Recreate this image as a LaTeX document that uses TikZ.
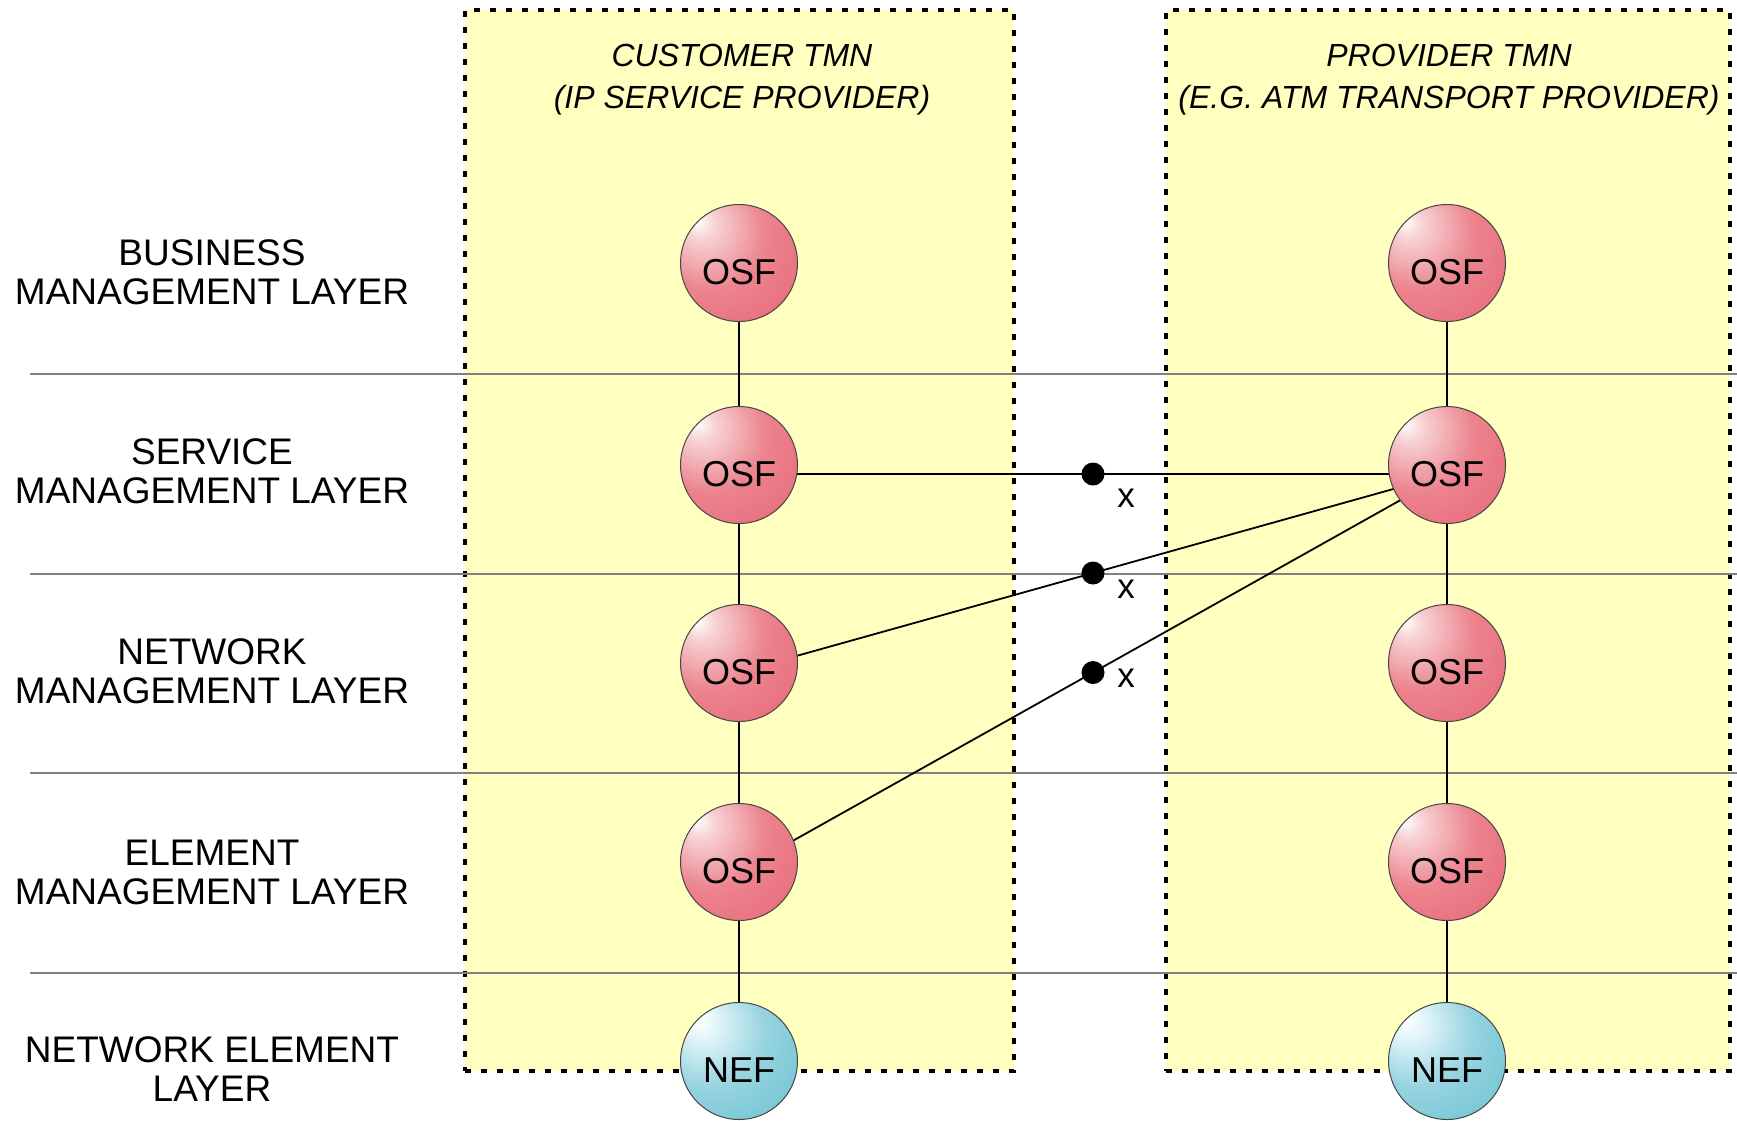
\documentclass[tikz,border=0pt]{standalone}
\usepackage{fontspec}
\setmainfont{Liberation Sans}

\definecolor{tmnfill}{RGB}{255,255,192}
\definecolor{layergray}{RGB}{128,128,128}
\definecolor{rimgray}{RGB}{70,70,70}
\definecolor{osfA}{RGB}{247,212,214}
\definecolor{osfB}{RGB}{236,132,142}
\definecolor{osfC}{RGB}{222,36,72}
\definecolor{nefA}{RGB}{230,247,250}
\definecolor{nefB}{RGB}{150,211,223}
\definecolor{nefC}{RGB}{36,166,186}

% off-centre radial shadings: light spot upper left, deep tone lower right
\pgfdeclareradialshading{osfshade}{\pgfpoint{-18bp}{18bp}}{%
  color(0bp)=(white); color(6bp)=(osfA); color(24bp)=(osfB);
  color(42bp)=(osfB!75!osfC); color(70bp)=(osfC); color(80bp)=(osfC)}
\pgfdeclareradialshading{nefshade}{\pgfpoint{-18bp}{18bp}}{%
  color(0bp)=(white); color(6bp)=(nefA); color(24bp)=(nefB);
  color(42bp)=(nefB!70!nefC); color(70bp)=(nefC); color(80bp)=(nefC)}

\begin{document}
\begin{tikzpicture}[x=1pt,y=-1pt,
  tmnbox/.style={draw=black, fill=tmnfill, line width=3.2pt,
    dash pattern=on 6pt off 10pt, inner sep=0pt},
  layerline/.style={draw=layergray, line width=2pt},
  conn/.style={draw=black, line width=1.8pt},
  fbase/.style={circle, minimum size=117pt, inner sep=0pt,
    draw=rimgray, line width=1pt, shade},
  osf/.style={fbase, shading=osfshade},
  nef/.style={fbase, shading=nefshade},
  ftext/.style={inner sep=0pt, font=\fontsize{36}{40}\selectfont},
  junction/.style={circle, fill=black, minimum size=23pt, inner sep=0pt},
  xmark/.style={font=\fontsize{35}{40}\selectfont, inner sep=0pt},
  layerlabel/.style={align=center, font=\fontsize{37}{39}\selectfont},
  header/.style={align=center, font=\itshape\fontsize{32}{42}\selectfont}
]
\clip (0,0) rectangle (1737,1120);
\fill[white] (0,0) rectangle (1737,1120);

% the two TMN domains
\node[tmnbox, minimum width=549pt, minimum height=1061pt] (custbox) at (739.5,540.5) {};
\node[tmnbox, minimum width=564pt, minimum height=1061pt] (provbox) at (1448,540.5) {};

% layer separators
\foreach \yy in {374,574,773,973}
  \draw[layerline] (30,\yy) -- (1737,\yy);

% domain headings
\node[header] (custhead) at (742,80) {CUSTOMER TMN\\(IP SERVICE PROVIDER)};
\node[header] (provhead) at (1449,80) {PROVIDER TMN\\(E.G. ATM TRANSPORT PROVIDER)};

% layer names
\node[layerlabel] (lbus) at (212,272) {BUSINESS\\MANAGEMENT LAYER};
\node[layerlabel] (lsvc) at (212,471) {SERVICE\\MANAGEMENT LAYER};
\node[layerlabel] (lnet) at (212,671) {NETWORK\\MANAGEMENT LAYER};
\node[layerlabel] (lele) at (212,872) {ELEMENT\\MANAGEMENT LAYER};
\node[layerlabel] (lne)  at (212,1069) {NETWORK ELEMENT\\LAYER};

% attachment points of the function blocks (one per layer and domain)
\coordinate (cr1) at (739,272);  \coordinate (pr1) at (1447,272);
\coordinate (cr2) at (739,474);  \coordinate (pr2) at (1447,474);
\coordinate (cr3) at (739,672);  \coordinate (pr3) at (1447,672);
\coordinate (cr4) at (739,871);  \coordinate (pr4) at (1447,871);
\coordinate (cr5) at (739,1070); \coordinate (pr5) at (1447,1070);

% vertical chains inside each domain
\foreach \a/\b in {cr1/cr2,cr2/cr3,cr3/cr4,cr4/cr5,pr1/pr2,pr2/pr3,pr3/pr4,pr4/pr5}
  \draw[conn] (\a) -- (\b);

% inter-domain links through the x reference points
\draw[conn] (cr2) -- node[junction, pos=.5] (d1) {} (pr2);
\draw[conn] (cr3) -- node[junction, pos=.5] (d2) {} (pr2);
\draw[conn] (cr4) -- node[junction, pos=.5] (d3) {} (pr2);

\node[xmark, xshift=33pt, yshift=-24pt] (x1) at (d1) {x};
\node[xmark, xshift=33pt, yshift=-16pt] (x2) at (d2) {x};
\node[xmark, xshift=33pt, yshift=-6pt]  (x3) at (d3) {x};

% function blocks: discs sit slightly above their attachment points
\foreach \s in {c,p}{
  \foreach \i in {1,2,3,4}{
    \node[osf] (\s\i) at ([yshift=9pt]\s r\i) {};
    \node[ftext] (\s\i t) at (\s r\i) {OSF};
  }
  \node[nef] (\s5) at ([yshift=9pt]\s r5) {};
  \node[ftext] (\s5t) at (\s r5) {NEF};
}
\end{tikzpicture}
\end{document}
